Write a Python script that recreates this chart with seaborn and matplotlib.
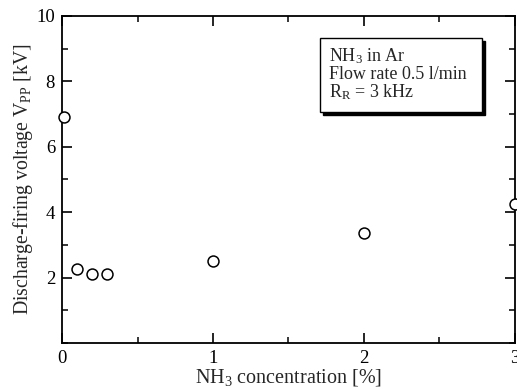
import matplotlib
matplotlib.use("Agg")
import matplotlib.pyplot as plt
from matplotlib.patches import Rectangle
from matplotlib.ticker import MultipleLocator
import seaborn as sns
import pandas as pd

# NH3 concentration [%] and discharge-firing voltage [kV]
nh3_conc = [0.01, 0.1, 0.2, 0.3, 1.0, 2.0, 3.0]
firing_voltage = [6.9, 2.25, 2.1, 2.1, 2.5, 3.35, 4.25]

info_lines = ["NH$_3$ in Ar", "Flow rate 0.5 l/min", "R$_\\mathrm{R}$ = 3 kHz"]

sns.set_theme(style="ticks")
plt.rcParams["font.family"] = ["Liberation Serif", "DejaVu Serif"]
plt.rcParams["mathtext.fontset"] = "custom"
plt.rcParams["mathtext.rm"] = "Liberation Serif"
plt.rcParams["mathtext.it"] = "Liberation Serif:italic"
plt.rcParams["mathtext.bf"] = "Liberation Serif:bold"

df = pd.DataFrame({"conc": nh3_conc, "volt": firing_voltage})

fig = plt.figure(figsize=(5.17, 3.89), dpi=100)
ax = fig.add_axes([0.12, 0.1183, 0.876, 0.8406])

sns.scatterplot(data=df, x="conc", y="volt", ax=ax, s=62, marker="o",
                facecolor="white", edgecolor="black", linewidth=1.1,
                clip_on=False, zorder=5, legend=False)

ax.set_xlim(0, 3)
ax.set_ylim(0, 10)
ax.xaxis.set_major_locator(MultipleLocator(1))
ax.xaxis.set_minor_locator(MultipleLocator(0.5))
ax.yaxis.set_major_locator(MultipleLocator(2))
ax.yaxis.set_minor_locator(MultipleLocator(1))
ax.set_yticks([2, 4, 6, 8, 10])
ax.set_yticklabels(["2", "4", "6", "8", "10"])

for s in ax.spines.values():
    s.set_linewidth(1.3)
    s.set_color("black")

ax.tick_params(which="both", direction="in", top=True, right=True,
               colors="black", labelsize=13.5)
ax.tick_params(which="major", length=7, width=1.2, pad=5)
ax.tick_params(which="minor", length=4, width=1.1)

ax.set_xlabel("NH$_3$ concentration [%]", fontsize=14.5, labelpad=0)
ax.set_ylabel("Discharge-firing voltage V$_\\mathrm{PP}$ [kV]", fontsize=14.2,
              labelpad=1)

# Annotation box with a solid drop shadow
bx0, bx1, by0, by1 = 0.570, 0.927, 0.706, 0.933
dx, dy = 3 / 453, 3 / 327
ax.add_patch(Rectangle((bx0 + dx, by0 - dy), bx1 - bx0, by1 - by0,
                       transform=ax.transAxes, facecolor="black",
                       edgecolor="black", zorder=6))
ax.add_patch(Rectangle((bx0, by0), bx1 - bx0, by1 - by0,
                       transform=ax.transAxes, facecolor="white",
                       edgecolor="black", linewidth=1.0, zorder=7))
for i, line in enumerate(info_lines):
    ax.text(0.590, 0.876 - i * 0.054, line, transform=ax.transAxes,
            fontsize=13, va="center", ha="left", zorder=8)

fig.savefig("out.png", dpi=100)
